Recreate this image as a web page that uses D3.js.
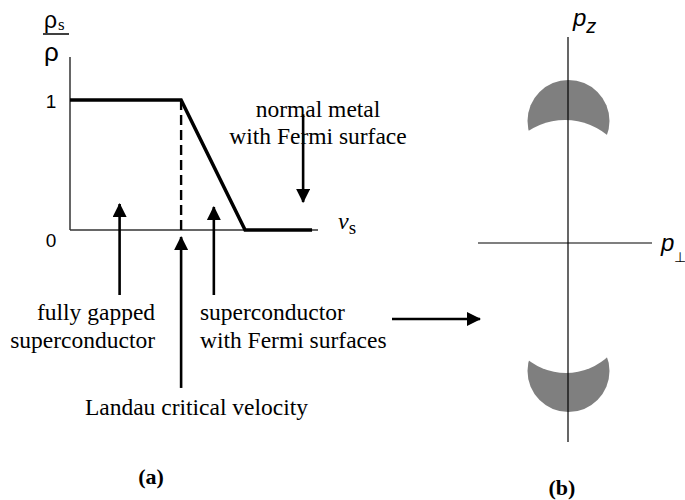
<!DOCTYPE html>
<html lang="en">
	<head>
		<meta charset="utf-8">
		<title>Superfluid density vs velocity</title>
		<script type="text/javascript" src="https://cdn.jsdelivr.net/npm/d3@7"></script>
		<style type="text/css">
			body { margin: 0; background: #fff; }
			.serif { font-family: "Liberation Serif", "Times New Roman", serif; fill: #000; }
			.sans { font-family: "Liberation Sans", Arial, sans-serif; fill: #000; }
		</style>
	</head>
	<body>
		<script type="text/javascript">

			//Width and height
			var w = 685;
			var h = 500;

			//Panel (a): rho_s/rho against v_s (v_s in units of the axis length)
			var vs = [0, 0.448, 0.706, 0.976];
			var rhoRatio = [1, 1, 0, 0];
			var vCritical = 0.448;
			var yTicks = [0, 1];
			var axisEnd = { v: 1, rho: 1.33 };

			//Arrows [x, yFrom, yTo] in data units, pointing to yTo
			var arrows = [
				{ x: 0.2, from: -0.5, to: 0.2 },
				{ x: 0.58, from: -0.5, to: 0.177 },
				{ x: vCritical, from: -1.215, to: -0.054 },
				{ x: 0.94, from: 0.89, to: 0.215 }
			];

			//Labels [x, y, lines] in data units
			var labels = [
				{ x: 1.0, y: 0.87, anchor: "middle", lines: ["normal metal", "with Fermi surface"] },
				{ x: 0.343, y: -0.695, anchor: "end", lines: ["fully gapped", "superconductor"] },
				{ x: 0.524, y: -0.695, anchor: "start", lines: ["superconductor", "with Fermi surfaces"] },
				{ x: 0.51, y: -1.42, anchor: "middle", lines: ["Landau critical velocity"] }
			];

			//Panel (b): Fermi pockets in momentum space
			var pPerpRange = [-0.9, 0.84];
			var pzRange = [-1.99, 2.06];
			var pockets = [
				{ outer: { x: 0.005, y: 1.22, r: 0.41 }, inner: { x: -0.03, y: 0.57, r: 0.66 } },
				{ outer: { x: 0.005, y: -1.28, r: 0.41 }, inner: { x: -0.02, y: -0.68, r: 0.62 } }
			];

			var svg = d3.select("body")
						.append("svg")
						.attr("width", w)
						.attr("height", h);

			//Scales
			var x = d3.scaleLinear().domain([0, 1]).range([70, 318]);
			var y = d3.scaleLinear().domain([0, 1]).range([230, 100]);
			var px = d3.scaleLinear().domain([-1, 1]).range([468, 668]);
			var py = d3.scaleLinear().domain([-1, 1]).range([343, 143]);

			//Arrow head
			svg.append("defs")
				.append("marker")
				.attr("id", "head")
				.attr("viewBox", "0 0 14 14")
				.attr("refX", 13)
				.attr("refY", 7)
				.attr("markerWidth", 14)
				.attr("markerHeight", 14)
				.attr("markerUnits", "userSpaceOnUse")
				.attr("orient", "auto")
				.append("path")
				.attr("d", "M0,0 L14,7 L0,14 Z")
				.attr("fill", "#000");

			//Axes of panel (a)
			var a = svg.append("g");
			a.append("line")
				.attr("x1", x(0)).attr("y1", y(0))
				.attr("x2", x(0)).attr("y2", y(axisEnd.rho))
				.style("stroke", "#333").style("stroke-width", 1.5);
			a.append("line")
				.attr("x1", x(0)).attr("y1", y(0))
				.attr("x2", x(axisEnd.v)).attr("y2", y(0))
				.style("stroke", "#333").style("stroke-width", 1.5);

			a.selectAll("text.tick")
				.data(yTicks)
				.enter()
				.append("text")
				.attr("class", "tick sans")
				.attr("x", x(0) - 19)
				.attr("y", function(d) { return y(d) + (d === 0 ? 17 : 8); })
				.attr("text-anchor", "middle")
				.style("font-size", "19px")
				.text(function(d) { return d; });

			//rho_s / rho label
			var yl = a.append("g");
			yl.append("text").attr("class", "sans")
				.attr("x", x(0) - 26).attr("y", 28)
				.style("font-size", "23px").text("ρ");
			yl.append("text").attr("class", "serif")
				.attr("x", x(0) - 12).attr("y", 30)
				.style("font-size", "17px").text("s");
			yl.append("line")
				.attr("x1", x(0) - 27).attr("x2", x(0) - 1)
				.attr("y1", 34).attr("y2", 34)
				.style("stroke", "#000").style("stroke-width", 1.5);
			yl.append("text").attr("class", "sans")
				.attr("x", x(0) - 26).attr("y", 61)
				.style("font-size", "26px").text("ρ");

			//v_s label
			var vl = a.append("text").attr("class", "serif")
				.attr("x", x(axisEnd.v) + 20).attr("y", y(0) - 1);
			vl.append("tspan").style("font-style", "italic").style("font-size", "24px").text("v");
			vl.append("tspan").attr("dy", 5).style("font-size", "19px").text("s");

			//Dashed line at the critical velocity
			a.append("line")
				.attr("x1", x(vCritical)).attr("y1", y(1))
				.attr("x2", x(vCritical)).attr("y2", y(0))
				.style("stroke", "#000")
				.style("stroke-width", 2.4)
				.style("stroke-dasharray", "10,5");

			//Curve
			var line = d3.line()
				.x(function(d) { return x(d[0]); })
				.y(function(d) { return y(d[1]); });
			a.append("path")
				.datum(d3.zip(vs, rhoRatio))
				.attr("d", line)
				.style("fill", "none")
				.style("stroke", "#000")
				.style("stroke-width", 3.5)
				.style("stroke-linejoin", "miter");

			//Arrows
			a.selectAll("line.arrow")
				.data(arrows)
				.enter()
				.append("line")
				.attr("class", "arrow")
				.attr("x1", function(d) { return x(d.x); })
				.attr("y1", function(d) { return y(d.from); })
				.attr("x2", function(d) { return x(d.x); })
				.attr("y2", function(d) { return y(d.to); })
				.style("stroke", "#000")
				.style("stroke-width", 2.6)
				.attr("marker-end", "url(#head)");

			//Labels
			var lab = a.selectAll("text.label")
				.data(labels)
				.enter()
				.append("text")
				.attr("class", "label serif")
				.attr("text-anchor", function(d) { return d.anchor; })
				.style("font-size", "23.5px");
			lab.selectAll("tspan")
				.data(function(d) { return d.lines.map(function(t, i) { return { t: t, i: i, d: d }; }); })
				.enter()
				.append("tspan")
				.attr("x", function(e) { return x(e.d.x); })
				.attr("y", function(e) { return y(e.d.y) + e.i * 27.5; })
				.text(function(e) { return e.t; });

			//Arrow from (a) to (b)
			svg.append("line")
				.attr("x1", 392).attr("y1", 319)
				.attr("x2", px(-0.88)).attr("y2", 319)
				.style("stroke", "#000")
				.style("stroke-width", 2.6)
				.attr("marker-end", "url(#head)");

			//Panel (b)
			var b = svg.append("g");
			var defs = svg.select("defs");
			pockets.forEach(function(p, i) {
				var m = defs.append("mask")
					.attr("id", "cut" + i)
					.attr("maskUnits", "userSpaceOnUse")
					.attr("x", 0).attr("y", 0)
					.attr("width", w).attr("height", h);
				m.append("rect").attr("width", w).attr("height", h).attr("fill", "#fff");
				m.append("circle")
					.attr("cx", px(p.inner.x))
					.attr("cy", py(p.inner.y))
					.attr("r", px(p.inner.r) - px(0))
					.attr("fill", "#000");
				b.append("circle")
					.attr("cx", px(p.outer.x))
					.attr("cy", py(p.outer.y))
					.attr("r", px(p.outer.r) - px(0))
					.attr("mask", "url(#cut" + i + ")")
					.style("fill", "#7f7f7f");
			});

			b.append("line")
				.attr("x1", px(pPerpRange[0])).attr("y1", py(0))
				.attr("x2", px(pPerpRange[1])).attr("y2", py(0))
				.style("stroke", "#000").style("stroke-width", 1.2);
			b.append("line")
				.attr("x1", px(0)).attr("y1", py(pzRange[0]))
				.attr("x2", px(0)).attr("y2", py(pzRange[1]))
				.style("stroke", "#000").style("stroke-width", 1.2);

			//p_z and p_perp labels
			var pz = b.append("text").attr("class", "sans")
				.attr("x", px(0) + 5).attr("y", 26)
				.style("font-style", "italic");
			pz.append("tspan").style("font-size", "24px").text("p");
			pz.append("tspan").attr("dy", 7).style("font-size", "20px").text("z");

			var pp = b.append("text").attr("class", "sans")
				.attr("x", px(pPerpRange[1]) + 9).attr("y", py(0) + 8);
			pp.append("tspan").style("font-style", "italic").style("font-size", "24px").text("p");
			pp.append("tspan").attr("dy", 11).style("font-size", "14px").text("⊥");

			//Panel captions
			svg.append("text").attr("class", "serif")
				.attr("x", 151).attr("y", 484)
				.attr("text-anchor", "middle")
				.style("font-size", "22px").style("font-weight", "bold")
				.text("(a)");
			svg.append("text").attr("class", "serif")
				.attr("x", px(-0.06)).attr("y", 495)
				.attr("text-anchor", "middle")
				.style("font-size", "22px").style("font-weight", "bold")
				.text("(b)");

		</script>
	</body>
</html>
